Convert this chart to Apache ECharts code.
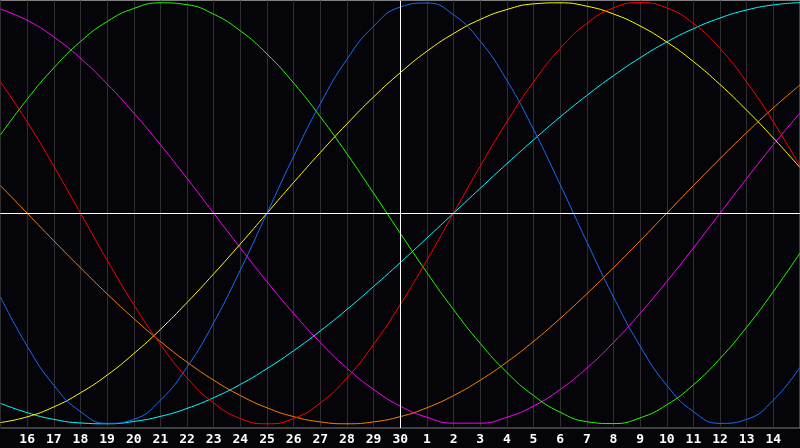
<!DOCTYPE html>
<html>
<head>
<meta charset="utf-8">
<script src="https://cdn.jsdelivr.net/npm/echarts@6/dist/echarts.min.js"></script>
<style>
  html, body { margin: 0; padding: 0; background: #050408; }
  #chart { width: 800px; height: 448px; }
</style>
</head>
<body>
<div id="chart"></div>
<script>
// days shown on the axis (first and last are the grid edges, not labelled)
let dayLabels = ['15','16','17','18','19','20','21','22','23','24','25','26','27','28','29','30',
  '1','2','3','4','5','6','7','8','9','10','11','12','13','14','15']
let todayIndex = 15

// one value per day (-1 .. 1)
let physical = [-0.398,-0.631,-0.817,-0.942,-0.998,-0.979,-0.888,-0.731,-0.520,-0.270,0,0.270,0.520,0.731,0.888,0.979,0.998,0.942,0.817,0.631,0.398,0.136,-0.136,-0.398,-0.631,-0.817,-0.942,-0.998,-0.979,-0.888,-0.731]
let emotional = [0.623,0.434,0.223,0,-0.223,-0.434,-0.623,-0.782,-0.901,-0.975,-1,-0.975,-0.901,-0.782,-0.623,-0.434,-0.223,0,0.223,0.434,0.623,0.782,0.901,0.975,1,0.975,0.901,0.782,0.623,0.434,0.223]
let intellectual = [0.372,0.541,0.690,0.815,0.910,0.972,0.999,0.990,0.945,0.866,0.756,0.618,0.458,0.282,0.095,-0.095,-0.282,-0.458,-0.618,-0.756,-0.866,-0.945,-0.990,-0.999,-0.972,-0.910,-0.815,-0.690,-0.541,-0.372,-0.189]
let intuitive = [0.969,0.916,0.837,0.736,0.614,0.476,0.325,0.165,0,-0.165,-0.325,-0.476,-0.614,-0.736,-0.837,-0.916,-0.969,-0.997,-0.997,-0.969,-0.916,-0.837,-0.736,-0.614,-0.476,-0.325,-0.165,0,0.165,0.325,0.476]
let aesthetic = [-0.994,-0.967,-0.920,-0.853,-0.769,-0.667,-0.552,-0.424,-0.288,-0.146,0,0.146,0.288,0.424,0.552,0.667,0.769,0.853,0.920,0.967,0.994,0.999,0.983,0.946,0.889,0.813,0.720,0.611,0.489,0.357,0.217]
let awareness = [0.131,0,-0.131,-0.259,-0.383,-0.500,-0.609,-0.707,-0.793,-0.866,-0.924,-0.966,-0.991,-1,-0.991,-0.966,-0.924,-0.866,-0.793,-0.707,-0.609,-0.500,-0.383,-0.259,-0.131,0,0.131,0.259,0.383,0.500,0.609]
let spiritual = [-0.903,-0.947,-0.979,-0.996,-1.000,-0.989,-0.965,-0.927,-0.876,-0.813,-0.738,-0.653,-0.559,-0.457,-0.348,-0.235,-0.118,0,0.118,0.235,0.348,0.457,0.559,0.653,0.738,0.813,0.876,0.927,0.965,0.989,1.000]

let curves = [
  { name: 'awareness', data: awareness, color: '#ff8000' },
  { name: 'intuitive', data: intuitive, color: '#ff00ff' },
  { name: 'spiritual', data: spiritual, color: '#00ffff' },
  { name: 'aesthetic', data: aesthetic, color: '#ffff00' },
  { name: 'intellectual', data: intellectual, color: '#22ff00' },
  { name: 'emotional', data: emotional, color: '#ff0000' },
  { name: 'physical', data: physical, color: '#1a6cff' }
]

var myChart = echarts.init(document.getElementById('chart'))

var series = curves.map(function (c) {
  return {
    name: c.name,
    type: 'line',
    data: c.data,
    smooth: true,
    symbol: 'none',
    lineStyle: { color: c.color, width: 1 },
    animation: false
  }
})

// white cross: today + zero line
series[0].markLine = {
  silent: true,
  symbol: 'none',
  label: { show: false },
  lineStyle: { color: '#ffffff', width: 1, type: 'solid' },
  data: [{ xAxis: todayIndex }, { yAxis: 0 }]
}

var option = {
  backgroundColor: '#050408',
  animation: false,
  grid: {
    left: 0.5, top: 0.5, right: -1, bottom: 20,
    show: true,
    borderColor: '#7f7f7f',
    borderWidth: 1
  },
  xAxis: {
    type: 'category',
    data: dayLabels,
    boundaryGap: false,
    axisLine: { show: true, lineStyle: { color: '#7f7f7f' } },
    axisTick: { show: false },
    splitLine: { show: true, interval: 0, lineStyle: { color: '#2e2e2e', width: 1 } },
    axisLabel: {
      interval: function (index) { return index > 0 && index < dayLabels.length - 1 },
      color: '#ffffff',
      fontFamily: 'DejaVu Sans Mono',
      fontWeight: 'bold',
      fontSize: 13,
      margin: 5
    }
  },
  yAxis: {
    type: 'value',
    min: -1.02,
    max: 1.01,
    show: false,
    splitLine: { show: false }
  },
  series: series
}

myChart.setOption(option)
</script>
</body>
</html>
